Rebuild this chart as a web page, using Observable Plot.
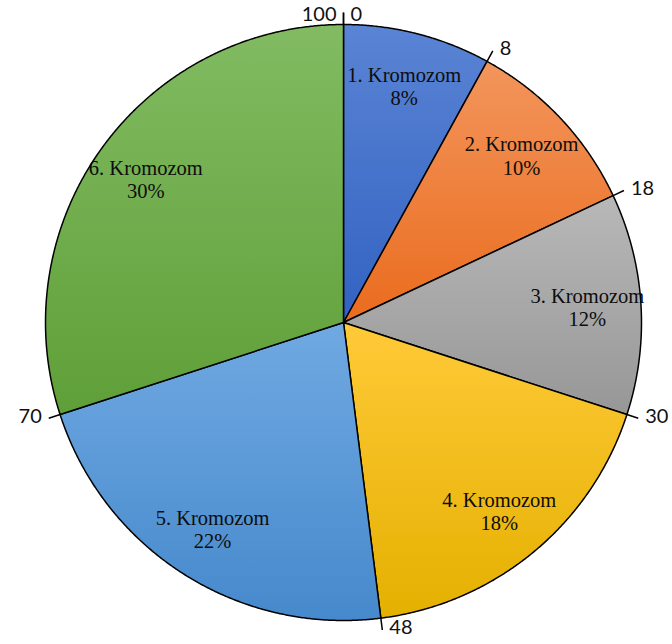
<!DOCTYPE html>
<html>
<head>
<meta charset="utf-8">
<script src="https://cdn.jsdelivr.net/npm/d3@7"></script>
<script src="https://cdn.jsdelivr.net/npm/@observablehq/plot@0.6"></script>
<style>
  html, body { margin: 0; padding: 0; background: #fff; }
  #chart svg { display: block; }
</style>
</head>
<body>
<div id="chart"></div>
<script>
// ---- data ----
const categories = ["1. Kromozom", "2. Kromozom", "3. Kromozom", "4. Kromozom", "5. Kromozom", "6. Kromozom"];
const values = [8, 10, 12, 18, 22, 30];
const tickLabels = ["0", "8", "18", "30", "48", "70", "100"];
const colorsTop = ["#5a84d4", "#f3955c", "#b8b8b8", "#ffca38", "#70a9e2", "#82bb62"];
const colorsBottom = ["#3262c2", "#ea6c1e", "#979797", "#e4b000", "#4689cc", "#5f9f38"];

// ---- geometry derived from the data ----
const total = d3.sum(values);
const cum = [0, ...d3.cumsum(values)];
const toAngle = v => (v / total) * 2 * Math.PI; // clockwise from top
const px = (a, r) => r * Math.sin(a);
const py = (a, r) => r * Math.cos(a);

const slices = categories.map((name, i) => {
  const a0 = toAngle(cum[i]), a1 = toAngle(cum[i + 1]);
  const n = Math.max(8, Math.ceil((a1 - a0) / 0.005));
  const pts = [{name, x: 0, y: 0}];
  for (let k = 0; k <= n; k++) {
    const a = a0 + (a1 - a0) * k / n;
    pts.push({name, x: px(a, 1), y: py(a, 1)});
  }
  pts.push({name, x: 0, y: 0});
  return {name, i, pts, mid: (a0 + a1) / 2, pct: values[i]};
});

const labelData = slices.map(s => ({
  x: px(s.mid, 0.82), y: py(s.mid, 0.82),
  text: `${s.name}\n${Math.round(s.pct / total * 100)}%`
}));

const tickLen = 0.04;
const tickData = cum.map((v, i) => {
  const a = toAngle(v);
  const y2 = py(a, 1 + tickLen);
  return {
    x1: px(a, 1), y1: py(a, 1), x2: px(a, 1 + tickLen), y2,
    label: tickLabels[i], anchor: (a < Math.PI - 1e-9) ? "start" : "end",
    top: y2 > 1.03
  };
});

// ---- layout ----
const W = 672, H = 644, cx = 343, cy = 322, R = 298;
const tickFont = {fontSize: 20, fill: "#111", fontFamily: "Lato, 'Open Sans', sans-serif"};

const marks = [];
slices.forEach(s => {
  marks.push(Plot.line(s.pts, {
    x: "x", y: "y", fill: `url(#grad${s.i})`, stroke: "#000", strokeWidth: 1.5,
    strokeLinejoin: "round", curve: "linear"
  }));
});
marks.push(Plot.link(tickData, {x1: "x1", y1: "y1", x2: "x2", y2: "y2", stroke: "#000", strokeWidth: 1.5}));
for (const anchor of ["start", "end"]) {
  for (const top of [true, false]) {
    marks.push(Plot.text(tickData.filter(d => d.anchor === anchor && d.top === top), {
      x: "x2", y: "y2", text: "label", textAnchor: anchor,
      dx: anchor === "start" ? 7 : -7, dy: top ? 2 : -2, ...tickFont
    }));
  }
}
marks.push(Plot.text(labelData, {
  x: "x", y: "y", text: "text", lineHeight: 1.15,
  fontSize: 20.5, fill: "#0d0d0d", fontFamily: "'Liberation Serif', 'Times New Roman', serif"
}));

const svg = Plot.plot({
  width: W, height: H,
  margin: 0,
  x: {domain: [-cx / R, (W - cx) / R], axis: null},
  y: {domain: [-(H - cy) / R, cy / R], axis: null},
  style: {background: "#fff", overflow: "visible"},
  marks
});

const defs = slices.map(s =>
  `<linearGradient id="grad${s.i}" x1="0" y1="0" x2="0" y2="1">
     <stop offset="0" stop-color="${colorsTop[s.i]}"/>
     <stop offset="1" stop-color="${colorsBottom[s.i]}"/>
   </linearGradient>`).join("");
svg.insertAdjacentHTML("afterbegin", `<defs>${defs}</defs>`);
document.getElementById("chart").appendChild(svg);
</script>
</body>
</html>
